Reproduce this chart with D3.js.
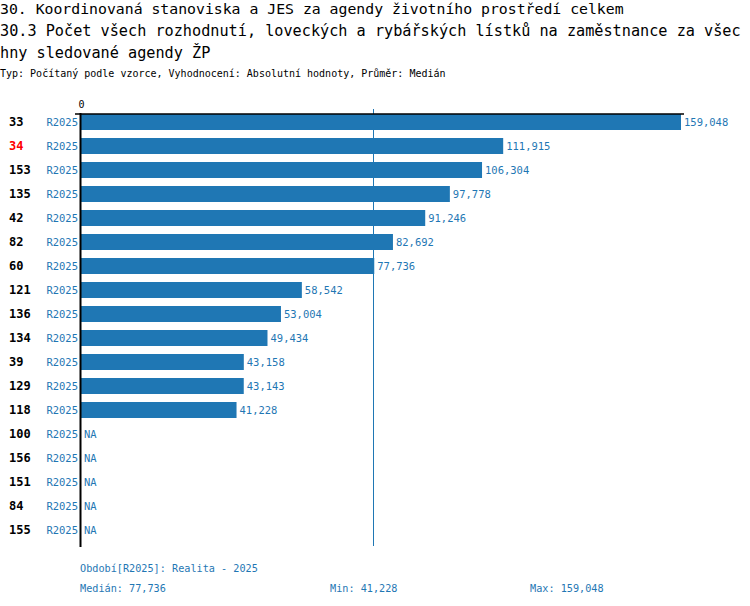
<!DOCTYPE html>
<html>
<head>
<meta charset="utf-8">
<script src="https://cdn.jsdelivr.net/npm/d3@7"></script>
<style>
  body { margin: 0; background: #fff; }
  svg { font-family: "DejaVu Sans Mono", monospace; }
</style>
</head>
<body>
<div id="chart"></div>
<script>
// categories (office codes), top to bottom
const codes = ["33", "34", "153", "135", "42", "82", "60", "121", "136", "134", "39", "129", "118", "100", "156", "151", "84", "155"];
// values for period R2025, null = NA
const values = [159048, 111915, 106304, 97778, 91246, 82692, 77736, 58542, 53004, 49434, 43158, 43143, 41228, null, null, null, null, null];
const highlight = "34";
const period = "R2025";
const titleLines = [
    "30. Koordinovaná stanoviska a JES za agendy životního prostředí celkem",
    "30.3 Počet všech rozhodnutí, loveckých a rybářských lístků na zaměstnance za všec",
    "hny sledované agendy ŽP"
];
const subtitle = "Typ: Počítaný podle vzorce, Vyhodnocení: Absolutní hodnoty, Průměr: Medián";
const footerPeriod = "Období[R2025]: Realita - 2025";
const stats = { median: 77736, min: 41228, max: 159048 };

const width = 750, height = 606;
const blue = "#1f77b4";
const fmt = d3.format(",");

const data = codes.map((c, i) => ({ code: c, value: values[i] }));

const svg = d3.select("#chart")
    .append("svg")
    .attr("width", width)
    .attr("height", height);

// titles
svg.append("g").selectAll("text")
    .data(titleLines)
    .join("text")
    .attr("x", 0)
    .attr("y", (d, i) => 14 + i * 22)
    .attr("font-size", (d, i) => i === 0 ? 14.8 : 15.2)
    .attr("fill", "#000")
    .text(d => d);

svg.append("text")
    .attr("x", 0)
    .attr("y", 77)
    .attr("font-size", 10)
    .attr("fill", "#000")
    .text(subtitle);

// scales
const x = d3.scaleLinear()
    .domain([0, stats.max])
    .range([81, 681]);

const y = d3.scaleBand()
    .domain(codes)
    .range([110, 542])
    .paddingInner(1 / 3)
    .paddingOuter(1 / 6);

// bars
const row = svg.append("g").selectAll("g")
    .data(data)
    .join("g");

row.filter(d => d.value != null)
    .append("rect")
    .attr("fill", blue)
    .attr("x", x(0))
    .attr("y", d => y(d.code))
    .attr("width", d => x(d.value) - x(0))
    .attr("height", y.bandwidth());

// value labels
row.append("text")
    .attr("x", d => (d.value != null ? x(d.value) : x(0)) + 3)
    .attr("y", d => y(d.code) + y.bandwidth() / 2)
    .attr("dy", "0.35em")
    .attr("font-size", 10.5)
    .attr("fill", blue)
    .text(d => d.value != null ? fmt(d.value) : "NA");

// code labels
row.append("text")
    .attr("x", 9)
    .attr("y", d => y(d.code) + y.bandwidth() / 2)
    .attr("dy", "0.35em")
    .attr("font-size", 12)
    .attr("font-weight", "bold")
    .attr("fill", d => d.code === highlight ? "#ff0000" : "#000")
    .text(d => d.code);

// period labels
row.append("text")
    .attr("x", 78)
    .attr("y", d => y(d.code) + y.bandwidth() / 2)
    .attr("dy", "0.35em")
    .attr("text-anchor", "end")
    .attr("font-size", 10.5)
    .attr("fill", blue)
    .text(period);

// median line
svg.append("line")
    .attr("x1", Math.round(x(stats.median)) - 0.5)
    .attr("x2", Math.round(x(stats.median)) - 0.5)
    .attr("y1", 109)
    .attr("y2", 546)
    .attr("stroke", blue)
    .attr("stroke-width", 1)
    .attr("shape-rendering", "crispEdges");

// top axis
const xAxis = g => g
    .attr("transform", "translate(0,114)")
    .call(d3.axisTop(x).tickValues([0]).tickSize(0).tickPadding(6))
    .call(g => g.select(".domain").attr("stroke", "#000").attr("stroke-width", 1.5)
        .attr("d", `M${x(0) - 1},0H${x(stats.max) + 3}`))
    .call(g => g.selectAll("text").attr("font-family", "DejaVu Sans Mono").attr("font-size", 10).attr("fill", "#000"));
svg.append("g").call(xAxis);

// left axis
svg.append("line")
    .attr("x1", x(0) - 0.5).attr("x2", x(0) - 0.5)
    .attr("y1", 113).attr("y2", 547)
    .attr("stroke", "#000").attr("stroke-width", 2);
svg.append("line")
    .attr("x1", 75).attr("x2", 81)
    .attr("y1", 114).attr("y2", 114)
    .attr("stroke", "#000").attr("stroke-width", 1.5);

// footer
const footer = svg.append("g")
    .attr("font-size", 10.2)
    .attr("fill", blue);
footer.append("text").attr("x", 80).attr("y", 572).text(footerPeriod);
footer.append("text").attr("x", 80).attr("y", 592).text("Medián: " + fmt(stats.median));
footer.append("text").attr("x", 330).attr("y", 592).text("Min: " + fmt(stats.min));
footer.append("text").attr("x", 530).attr("y", 592).text("Max: " + fmt(stats.max));
</script>
</body>
</html>
